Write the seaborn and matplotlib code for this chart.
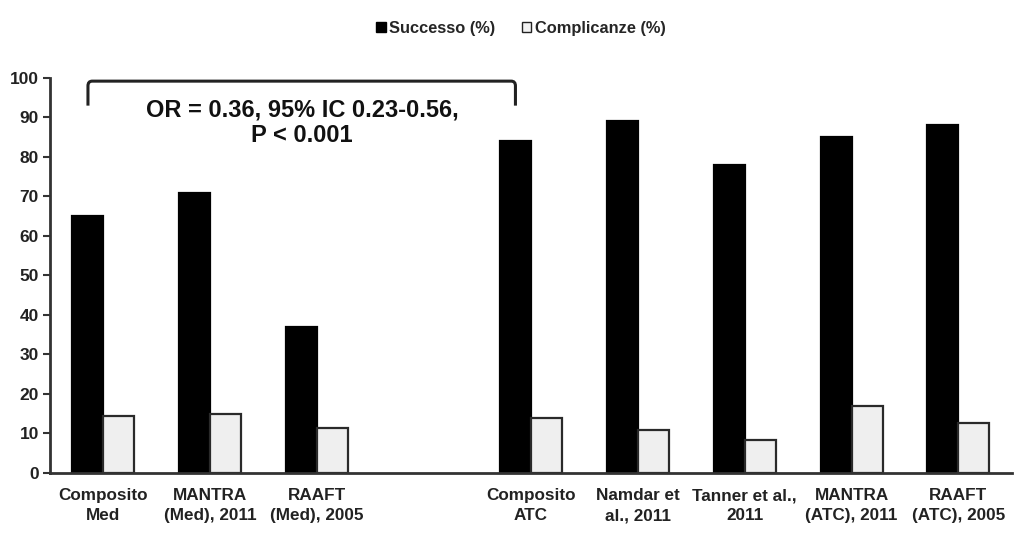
import matplotlib
matplotlib.use("Agg")
import matplotlib.pyplot as plt
import seaborn as sns
import pandas as pd
from matplotlib.path import Path
from matplotlib.patches import PathPatch, Patch

categories = ["Composito\nMed", "MANTRA\n(Med), 2011", "RAAFT\n(Med), 2005", " ",
              "Composito\nATC", "Namdar et\nal., 2011", "Tanner et al.,\n2011",
              "MANTRA\n(ATC), 2011", "RAAFT\n(ATC), 2005"]
successo = [65, 71, 37, None, 84, 89, 78, 85, 88]
complicanze = [14.4, 15, 11.4, None, 14, 11, 8.4, 17, 12.7]
series_names = ["Successo (%)", "Complicanze (%)"]
yticks = list(range(0, 101, 10))
annotation = "OR = 0.36, 95% IC 0.23-0.56,\nP < 0.001"

sns.set_theme(style="white")
plt.rcParams['font.family'] = ['Liberation Sans', 'DejaVu Sans']
plt.rcParams['font.weight'] = 'bold'

rows = []
for c, s, k in zip(categories, successo, complicanze):
    if s is not None:
        rows.append({"cat": c, "serie": series_names[0], "val": s})
        rows.append({"cat": c, "serie": series_names[1], "val": k})
df = pd.DataFrame(rows)

fig = plt.figure(figsize=(10.23, 5.33), dpi=100)
ax = fig.add_axes([0.0489, 0.1126, 0.9402, 0.7411])

colors = ["#000000", "#efefef"]
sns.barplot(data=df, x="cat", y="val", hue="serie", order=categories,
            hue_order=series_names, palette=colors, width=0.58, ax=ax,
            saturation=1, legend=False, errorbar=None)

edges = ["#000000", "#2a2a2a"]
for cont, ec in zip(ax.containers, edges):
    for p in cont:
        p.set_edgecolor(ec)
        p.set_linewidth(1.6)

ax.set_xlim(-0.5, len(categories) - 0.5)
ax.set_ylim(0, 100)
ax.set_yticks(yticks)
ax.set_yticklabels([str(t) for t in yticks], fontsize=12.5, fontweight='bold', color="#222222")
ax.set_xticks(range(len(categories)))
ax.set_xticklabels(categories, fontsize=12.3, fontweight='bold', color="#222222", linespacing=1.4)
ax.set_xticks([i - 0.5 for i in range(len(categories) + 1)], minor=True)
ax.tick_params(axis='x', which='major', length=0, pad=11)
ax.tick_params(axis='x', which='minor', length=5, width=1.5, color="#333333", direction='out')
ax.tick_params(axis='y', which='major', length=5, width=1.5, color="#333333", direction='out', pad=3, left=True)
ax.set_xlabel("")
ax.set_ylabel("")
for s in ["top", "right"]:
    ax.spines[s].set_visible(False)
for s in ["left", "bottom"]:
    ax.spines[s].set_color("#333333")
    ax.spines[s].set_linewidth(2)

# bracket from first composite to second composite black bars
x0, x1 = -0.145, 3.855
ytop, ybot = 99.2, 93.0
r = 0.04
verts = [(x0, ybot), (x0, ytop - 1.2), (x0, ytop), (x0 + r, ytop),
         (x1 - r, ytop), (x1, ytop), (x1, ytop - 1.2), (x1, ybot)]
codes = [Path.MOVETO, Path.LINETO, Path.CURVE3, Path.CURVE3,
         Path.LINETO, Path.CURVE3, Path.CURVE3, Path.LINETO]
ax.add_patch(PathPatch(Path(verts, codes), fill=False, lw=2.2, ec="#222222", clip_on=False))
ax.text(1.86, 88.6, annotation, ha='center', va='center', fontsize=17,
        fontweight='bold', color="#111111", linespacing=1.15)

handles = [Patch(facecolor=colors[0], edgecolor="#000000", lw=1),
           Patch(facecolor="#f2f2f2", edgecolor="#222222", lw=1)]
fig.legend(handles, series_names, loc='center', bbox_to_anchor=(0.509, 0.947), ncol=2,
           frameon=False, handlelength=0.6, handleheight=0.6,
           handletextpad=0.2, columnspacing=1.6, prop={'weight': 'bold', 'size': 11.8})

fig.savefig("out.png", dpi=100)
